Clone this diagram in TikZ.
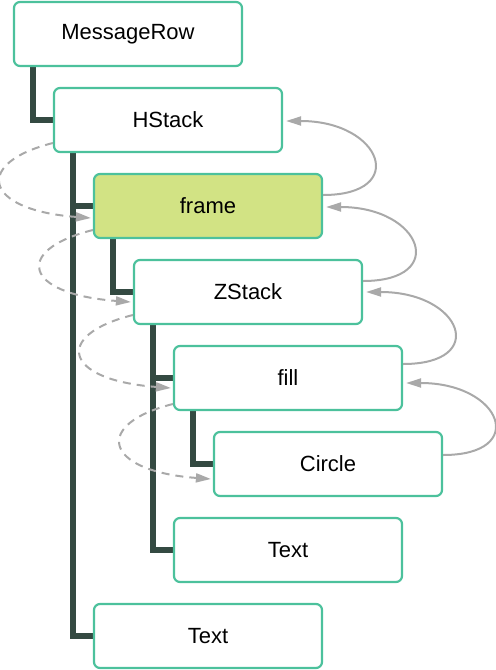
\documentclass[tikz,border=0pt]{standalone}
\usepackage{fontspec}
\setmainfont{Liberation Sans}
\usetikzlibrary{arrows.meta,backgrounds}
\definecolor{boxline}{HTML}{4CC19C}
\definecolor{framefill}{HTML}{D2E384}
\definecolor{treeline}{HTML}{344A42}
\definecolor{flowgray}{HTML}{A9A9A9}

\begin{document}
\begin{tikzpicture}[x=0.5pt,y=-0.5pt,
  viewbox/.style={draw=boxline, line width=1.1pt, rounded corners=3pt, fill=white, minimum width=114pt, minimum height=32pt, inner sep=0pt, font={\fontsize{11}{13}\selectfont}},
  branch/.style={draw=treeline, line width=3pt},
  propose/.style={draw=flowgray, line width=1pt, dash pattern=on 4pt off 3pt, -{Triangle[length=7.5pt,width=4.5pt]}},
  report/.style={draw=flowgray, line width=1pt, -{Triangle[length=7.5pt,width=4.5pt]}}]
\useasboundingbox (0,0) rectangle (496,670);
\node[viewbox] (msgrow) at (128,34) {MessageRow};
\node[viewbox] (hstack) at (168,120) {HStack};
\node[viewbox, fill=framefill] (framemod) at (208,206) {frame};
\node[viewbox] (zstack) at (248,292) {ZStack};
\node[viewbox] (fillmod) at (288,378) {fill};
\node[viewbox] (circ) at (328,464) {Circle};
\node[viewbox] (innertext) at (288,550) {Text};
\node[viewbox] (outertext) at (208,636) {Text};
\begin{scope}[on background layer]
\draw[branch] (msgrow.south west) ++(20,0) |- (hstack.west);
\draw[branch] (hstack.south west) ++(20,0) |- (framemod.west);
\draw[branch] (hstack.south west) ++(20,0) |- (outertext.west);
\draw[branch] (framemod.south west) ++(20,0) |- (zstack.west);
\draw[branch] (zstack.south west) ++(20,0) |- (fillmod.west);
\draw[branch] (zstack.south west) ++(20,0) |- (innertext.west);
\draw[branch] (fillmod.south west) ++(20,0) |- (circ.west);
\end{scope}
\draw[propose] ([shift={(0,23)}]hstack.west) .. controls +(-80,20) and +(-108,-8) .. ([shift={(-2,12)}]framemod.west);
\draw[propose] ([shift={(0,24)}]framemod.west) .. controls +(-80,20) and +(-108,-8) .. ([shift={(-2,10)}]zstack.west);
\draw[propose] ([shift={(0,23)}]zstack.west) .. controls +(-80,20) and +(-108,-8) .. ([shift={(-2,10)}]fillmod.west);
\draw[propose] ([shift={(0,26)}]fillmod.west) .. controls +(-80,20) and +(-108,-8) .. ([shift={(-2,15)}]circ.west);
\draw[report] ([shift={(0,-11)}]framemod.east) .. controls +(86,0) and +(96,0) .. ([shift={(3,1)}]hstack.east);
\draw[report] ([shift={(0,-11)}]zstack.east) .. controls +(86,0) and +(96,0) .. ([shift={(3,1)}]framemod.east);
\draw[report] ([shift={(0,-14)}]fillmod.east) .. controls +(86,0) and +(96,0) .. ([shift={(3,0)}]zstack.east);
\draw[report] ([shift={(0,-9)}]circ.east) .. controls +(86,0) and +(96,0) .. ([shift={(3,5)}]fillmod.east);
\end{tikzpicture}
\end{document}
